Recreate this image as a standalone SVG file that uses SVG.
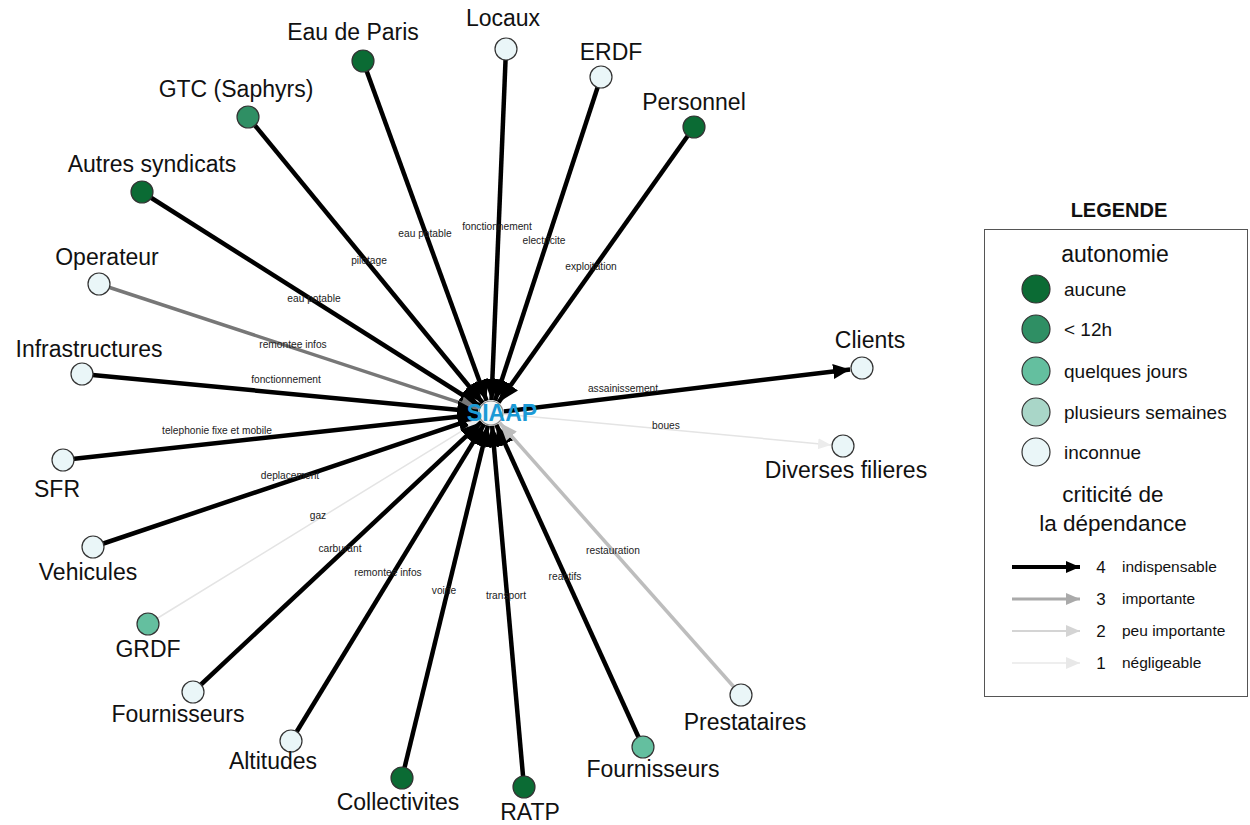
<svg xmlns="http://www.w3.org/2000/svg" width="1250" height="825" viewBox="0 0 1250 825">
<style>
.lbl{font-family:"Liberation Sans",Arial,sans-serif;font-size:23px;fill:#111;text-anchor:middle}
.el{font-family:"Liberation Sans",Arial,sans-serif;font-size:10.2px;fill:#222;text-anchor:middle}
.nd{stroke:#333;stroke-width:1.2}
.c0{fill:#0b6b34}.c1{fill:#2f8f64}.c2{fill:#64bf9f}.c3{fill:#a9d6c8}.c4{fill:#eaf6f8}
.e4{stroke:#000;stroke-width:4.5;fill:none}
.e3{stroke:#777;stroke-width:3.5;fill:none}
.e3b{stroke:#bdbdbd;stroke-width:3.5;fill:none}
.e1{stroke:#e4e4e4;stroke-width:1.5;fill:none}
.lg{font-family:"Liberation Sans",Arial,sans-serif;fill:#111}
</style>
<defs>
<marker id="a4" markerUnits="userSpaceOnUse" markerWidth="24" markerHeight="20" refX="21" refY="9" orient="auto"><path d="M0,0 L21,9 L0,18 Z" fill="#000"/></marker>
<marker id="a3" markerUnits="userSpaceOnUse" markerWidth="22" markerHeight="18" refX="18" refY="7" orient="auto"><path d="M0,0 L18,7 L0,14 Z" fill="#777"/></marker>
<marker id="a3b" markerUnits="userSpaceOnUse" markerWidth="22" markerHeight="18" refX="18" refY="7" orient="auto"><path d="M0,0 L18,7 L0,14 Z" fill="#bdbdbd"/></marker>
<marker id="a1" markerUnits="userSpaceOnUse" markerWidth="16" markerHeight="14" refX="13" refY="5.5" orient="auto"><path d="M0,0 L13,5.5 L0,11 Z" fill="#ececec"/></marker>
<marker id="ac" markerUnits="userSpaceOnUse" markerWidth="20" markerHeight="18" refX="17" refY="7.5" orient="auto"><path d="M0,0 L17,7.5 L0,15 Z" fill="#000"/></marker>
<marker id="l4" markerUnits="userSpaceOnUse" markerWidth="18" markerHeight="16" refX="14" refY="6" orient="auto"><path d="M0,0 L14,6 L0,12 Z" fill="#000"/></marker>
<marker id="l3" markerUnits="userSpaceOnUse" markerWidth="18" markerHeight="16" refX="14" refY="6" orient="auto"><path d="M0,0 L14,6 L0,12 Z" fill="#aaa"/></marker>
<marker id="l2" markerUnits="userSpaceOnUse" markerWidth="18" markerHeight="16" refX="14" refY="6" orient="auto"><path d="M0,0 L14,6 L0,12 Z" fill="#d4d4d4"/></marker>
<marker id="l1" markerUnits="userSpaceOnUse" markerWidth="18" markerHeight="16" refX="14" refY="6" orient="auto"><path d="M0,0 L14,6 L0,12 Z" fill="#e8e8e8"/></marker>
</defs>
<rect width="1250" height="825" fill="#fff"/>

<g id="siaap-circle"><circle cx="491" cy="413" r="12" fill="#f4f8f9" stroke="#888" stroke-width="1.2"/></g>

<g id="connectors">
<line class="e4" x1="363" y1="61" x2="486.6" y2="400.8" marker-end="url(#a4)"/>
<line class="e4" x1="506" y1="49" x2="491.5" y2="400.0" marker-end="url(#a4)"/>
<line class="e4" x1="601" y1="77" x2="495.0" y2="400.6" marker-end="url(#a4)"/>
<line class="e4" x1="694" y1="127" x2="498.5" y2="402.4" marker-end="url(#a4)"/>
<line class="e4" x1="248" y1="117" x2="482.8" y2="403.0" marker-end="url(#a4)"/>
<line class="e4" x1="142" y1="192" x2="480.0" y2="406.0" marker-end="url(#a4)"/>
<line class="e3" x1="99" y1="284" x2="478.6" y2="408.9" marker-end="url(#a3)"/>
<line class="e4" x1="82" y1="374" x2="478.1" y2="411.8" marker-end="url(#a4)"/>
<line class="e4" x1="63" y1="460" x2="478.1" y2="414.4" marker-end="url(#a4)"/>
<line class="e4" x1="93" y1="547" x2="478.7" y2="417.1" marker-end="url(#a4)"/>
<line class="e1" x1="148" y1="624" x2="479.9" y2="419.8" marker-end="url(#a1)"/>
<line class="e4" x1="193" y1="692" x2="481.5" y2="421.9" marker-end="url(#a4)"/>
<line class="e4" x1="291" y1="741" x2="484.2" y2="424.1" marker-end="url(#a4)"/>
<line class="e4" x1="402" y1="778" x2="487.9" y2="425.6" marker-end="url(#a4)"/>
<line class="e4" x1="524" y1="787" x2="492.1" y2="425.9" marker-end="url(#a4)"/>
<line class="e4" x1="643" y1="747" x2="496.4" y2="424.8" marker-end="url(#a4)"/>
<line class="e3b" x1="741" y1="695" x2="499.6" y2="422.7" marker-end="url(#a3b)"/>
<line class="e4" x1="503.9" y1="411.4" x2="850.1" y2="369.4" marker-end="url(#ac)"/>
<line class="e1" x1="503.9" y1="414.2" x2="831.0" y2="444.9" marker-end="url(#a1)"/>

<g id="edge-labels">
<text class="el" x="425" y="237">eau potable</text>
<text class="el" x="497" y="230">fonctionnement</text>
<text class="el" x="544" y="244">electricite</text>
<text class="el" x="591" y="270">exploitation</text>
<text class="el" x="369" y="264">pilotage</text>
<text class="el" x="314" y="302">eau potable</text>
<text class="el" x="293" y="348">remontee infos</text>
<text class="el" x="286" y="383">fonctionnement</text>
<text class="el" x="217" y="434">telephonie fixe et mobile</text>
<text class="el" x="290" y="479">deplacement</text>
<text class="el" x="318" y="519">gaz</text>
<text class="el" x="340" y="552">carburant</text>
<text class="el" x="388" y="576">remontee infos</text>
<text class="el" x="444" y="594">voirie</text>
<text class="el" x="506" y="599">transport</text>
<text class="el" x="565" y="580">reactifs</text>
<text class="el" x="613" y="554">restauration</text>
<text class="el" x="623" y="392">assainissement</text>
<text class="el" x="666" y="429">boues</text>
</g>
</g>

<g id="SIAAP"><text x="502" y="421" font-family="Liberation Sans,Arial,sans-serif" font-size="23" font-weight="bold" fill="#1b9ad6" text-anchor="middle">SIAAP</text></g>

<g id="n-eaudeparis"><circle class="nd c0" cx="363" cy="61" r="11"/><text class="lbl" x="353" y="40">Eau de Paris</text></g>
<g id="n-locaux"><circle class="nd c4" cx="506" cy="49" r="11"/><text class="lbl" x="503" y="26">Locaux</text></g>
<g id="n-erdf"><circle class="nd c4" cx="601" cy="77" r="11"/><text class="lbl" x="611" y="60">ERDF</text></g>
<g id="n-personnel"><circle class="nd c0" cx="694" cy="127" r="11"/><text class="lbl" x="694" y="110">Personnel</text></g>
<g id="n-gtc"><circle class="nd c1" cx="248" cy="117" r="11"/><text class="lbl" x="236" y="97">GTC (Saphyrs)</text></g>
<g id="n-autres"><circle class="nd c0" cx="142" cy="192" r="11"/><text class="lbl" x="152" y="172">Autres syndicats</text></g>
<g id="n-operateur"><circle class="nd c4" cx="99" cy="284" r="11"/><text class="lbl" x="107" y="265">Operateur</text></g>
<g id="n-infra"><circle class="nd c4" cx="82" cy="374" r="11"/><text class="lbl" x="89" y="357">Infrastructures</text></g>
<g id="n-sfr"><circle class="nd c4" cx="63" cy="460" r="11"/><text class="lbl" x="57" y="497">SFR</text></g>
<g id="n-vehicules"><circle class="nd c4" cx="93" cy="547" r="11"/><text class="lbl" x="88" y="580">Vehicules</text></g>
<g id="n-grdf"><circle class="nd c2" cx="148" cy="624" r="11"/><text class="lbl" x="148" y="657">GRDF</text></g>
<g id="n-fourn1"><circle class="nd c4" cx="193" cy="692" r="11"/><text class="lbl" x="178" y="722">Fournisseurs</text></g>
<g id="n-altitudes"><circle class="nd c4" cx="291" cy="741" r="11"/><text class="lbl" x="273" y="769">Altitudes</text></g>
<g id="n-collectivites"><circle class="nd c0" cx="402" cy="778" r="11"/><text class="lbl" x="398" y="810">Collectivites</text></g>
<g id="n-ratp"><circle class="nd c0" cx="524" cy="787" r="11"/><text class="lbl" x="530" y="820">RATP</text></g>
<g id="n-fourn2"><circle class="nd c2" cx="643" cy="747" r="11"/><text class="lbl" x="653" y="777">Fournisseurs</text></g>
<g id="n-prestataires"><circle class="nd c4" cx="741" cy="695" r="11"/><text class="lbl" x="745" y="730">Prestataires</text></g>
<g id="n-clients"><circle class="nd c4" cx="862" cy="368" r="11"/><text class="lbl" x="870" y="348">Clients</text></g>
<g id="n-diverses"><circle class="nd c4" cx="843" cy="446" r="11"/><text class="lbl" x="846" y="478">Diverses filieres</text></g>

<g id="legend">
<text class="lg" x="1119" y="217" font-size="20" font-weight="bold" text-anchor="middle">LEGENDE</text>
<rect x="984.5" y="229.5" width="263" height="467" fill="none" stroke="#555" stroke-width="1"/>
<text class="lg" x="1115" y="262" font-size="23" text-anchor="middle">autonomie</text>
<circle class="nd c0" cx="1036" cy="289" r="14"/><text class="lg" x="1064" y="296" font-size="19">aucune</text>
<circle class="nd c1" cx="1036" cy="329" r="14"/><text class="lg" x="1064" y="336" font-size="19">&lt; 12h</text>
<circle class="nd c2" cx="1036" cy="371" r="14"/><text class="lg" x="1064" y="378" font-size="19">quelques jours</text>
<circle class="nd c3" cx="1036" cy="412" r="14"/><text class="lg" x="1064" y="419" font-size="19">plusieurs semaines</text>
<circle class="nd c4" cx="1036" cy="452" r="14"/><text class="lg" x="1064" y="459" font-size="19">inconnue</text>
<text class="lg" x="1113" y="502" font-size="22.5" text-anchor="middle">criticité de</text>
<text class="lg" x="1113" y="531" font-size="22.5" text-anchor="middle">la dépendance</text>
<line x1="1012" y1="567" x2="1080" y2="567" stroke="#000" stroke-width="4" marker-end="url(#l4)"/>
<line x1="1012" y1="599" x2="1080" y2="599" stroke="#aaa" stroke-width="3" marker-end="url(#l3)"/>
<line x1="1012" y1="631" x2="1080" y2="631" stroke="#d4d4d4" stroke-width="2" marker-end="url(#l2)"/>
<line x1="1012" y1="663" x2="1080" y2="663" stroke="#e8e8e8" stroke-width="1.5" marker-end="url(#l1)"/>
<text class="lg" x="1101" y="573" font-size="17" text-anchor="middle">4</text>
<text class="lg" x="1101" y="605" font-size="17" text-anchor="middle">3</text>
<text class="lg" x="1101" y="637" font-size="17" text-anchor="middle">2</text>
<text class="lg" x="1101" y="669" font-size="17" text-anchor="middle">1</text>
<text class="lg" x="1122" y="572" font-size="15.5">indispensable</text>
<text class="lg" x="1122" y="604" font-size="15.5">importante</text>
<text class="lg" x="1122" y="636" font-size="15.5">peu importante</text>
<text class="lg" x="1122" y="668" font-size="15.5">négligeable</text>
</g>
</svg>
